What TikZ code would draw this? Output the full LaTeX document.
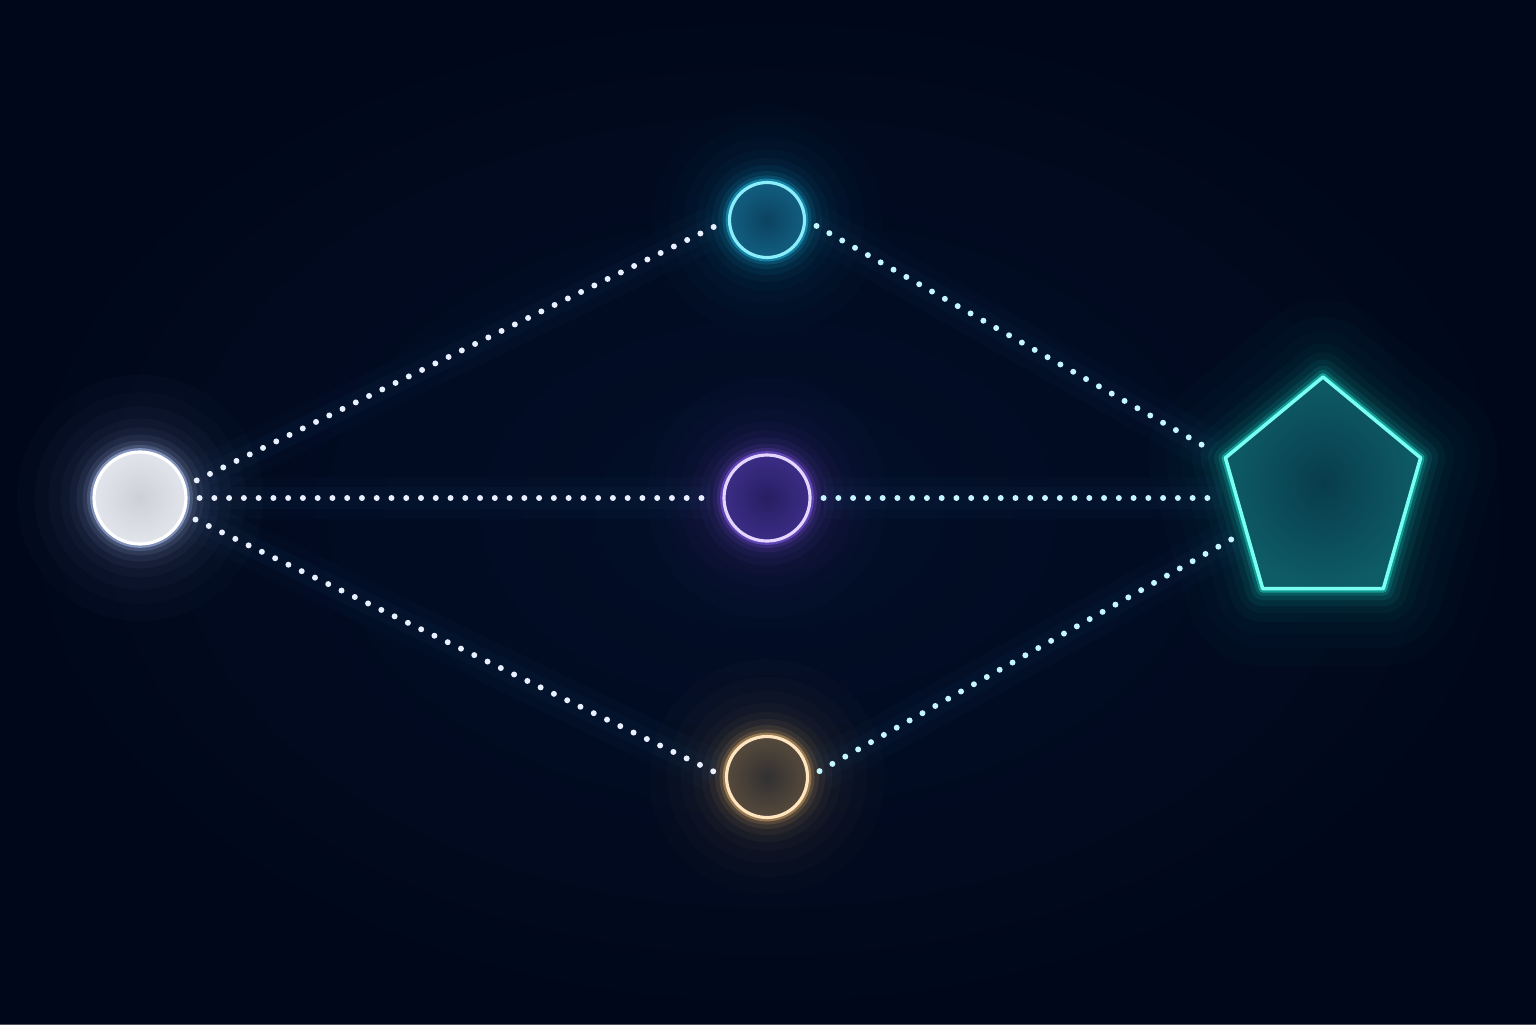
\documentclass[tikz,border=0pt]{standalone}
\usetikzlibrary{shapes.geometric,calc}
\definecolor{night}{HTML}{010A22}
\definecolor{nightcore}{HTML}{04122C}
\definecolor{nightedge}{HTML}{000718}
\definecolor{srcring}{HTML}{FFFFFF}
\definecolor{srcglow}{HTML}{B8CCFF}
\definecolor{srcin}{HTML}{CDD0D6}
\definecolor{srcout}{HTML}{E2E5EC}
\definecolor{topring}{HTML}{8CEEFA}
\definecolor{topglow}{HTML}{1FB6E0}
\definecolor{topin}{HTML}{0B4260}
\definecolor{topout}{HTML}{125E80}
\definecolor{midring}{HTML}{E4D6FF}
\definecolor{midglow}{HTML}{8A5CF0}
\definecolor{midin}{HTML}{261E62}
\definecolor{midout}{HTML}{3C2D86}
\definecolor{botring}{HTML}{FFE6C0}
\definecolor{botglow}{HTML}{D8A868}
\definecolor{botin}{HTML}{323032}
\definecolor{botout}{HTML}{564A3C}
\definecolor{pentring}{HTML}{78FFF2}
\definecolor{pentglow}{HTML}{1ED8C8}
\definecolor{pentin}{HTML}{083C4C}
\definecolor{pentout}{HTML}{0E5C66}
\definecolor{dotwhite}{HTML}{E8F0FF}
\definecolor{dotcyan}{HTML}{C4F6FF}
\definecolor{beadglow}{HTML}{3A7AC0}
\tikzstyle{ring} = [circle, draw, line width=0.9pt, inner sep=0pt]
\tikzset{halo/.style={
	preaction={draw=#1, line join=round, line width=44pt, draw opacity=0.014},
	preaction={draw=#1, line join=round, line width=34pt, draw opacity=0.018},
	preaction={draw=#1, line join=round, line width=26pt, draw opacity=0.024},
	preaction={draw=#1, line join=round, line width=19pt, draw opacity=0.032},
	preaction={draw=#1, line join=round, line width=14pt, draw opacity=0.045},
	preaction={draw=#1, line join=round, line width=10pt, draw opacity=0.065},
	preaction={draw=#1, line join=round, line width=6.5pt, draw opacity=0.1},
	preaction={draw=#1, line join=round, line width=4pt, draw opacity=0.18},
	preaction={draw=#1, line join=round, line width=2.2pt, draw opacity=0.5}}}
\tikzset{beads/.style={draw=#1, line width=1.7pt, line cap=round,
	dash pattern=on 0pt off 4.2pt, shorten <=0.12cm, shorten >=0.12cm,
	preaction={draw=beadglow, line width=12pt, draw opacity=0.03},
	preaction={draw=beadglow, line width=6pt, draw opacity=0.04}}}

\begin{document}
\begin{tikzpicture}
	\useasboundingbox (0, 0) rectangle (15.36, 10.24);
	\fill[night] (0, 0) rectangle (15.36, 10.24);
	\shade[inner color=nightcore, outer color=nightedge, opacity=0.7] (0, 0) rectangle (15.36, 10.24);
	% nodes
	\node (src) at (1.40, 5.26) [ring, minimum size=0.92cm, draw=srcring, inner color=srcin, outer color=srcout, halo=srcglow] {};
	\node (top) at (7.67, 8.04) [ring, minimum size=0.75cm, draw=topring, inner color=topin, outer color=topout, halo=topglow] {};
	\node (mid) at (7.67, 5.26) [ring, minimum size=0.86cm, draw=midring, inner color=midin, outer color=midout, halo=midglow] {};
	\node (bot) at (7.67, 2.47) [ring, minimum size=0.81cm, draw=botring, inner color=botin, outer color=botout, halo=botglow] {};
	\node (pent) at (13.23, 5.30) [regular polygon, regular polygon sides=5, minimum size=2.34cm, inner sep=0pt, xscale=0.877, draw=pentring, line width=1pt, line join=round, inner color=pentin, outer color=pentout, halo=pentglow] {};
	% dotted links
	\draw[beads=dotwhite] (src.15) -- (top.west);
	\draw[beads=dotwhite] (src.east) -- (mid.west);
	\draw[beads=dotwhite] (src.-20) -- (bot.west);
	\draw[beads=dotcyan] (top.east) -- (pent.corner 2);
	\draw[beads=dotcyan] (mid.east) -- (mid.east -| pent.west);
	\draw[beads=dotcyan] (bot.east) -- ($(pent.corner 2)!0.56!(pent.corner 3)$);
\end{tikzpicture}
\end{document}
